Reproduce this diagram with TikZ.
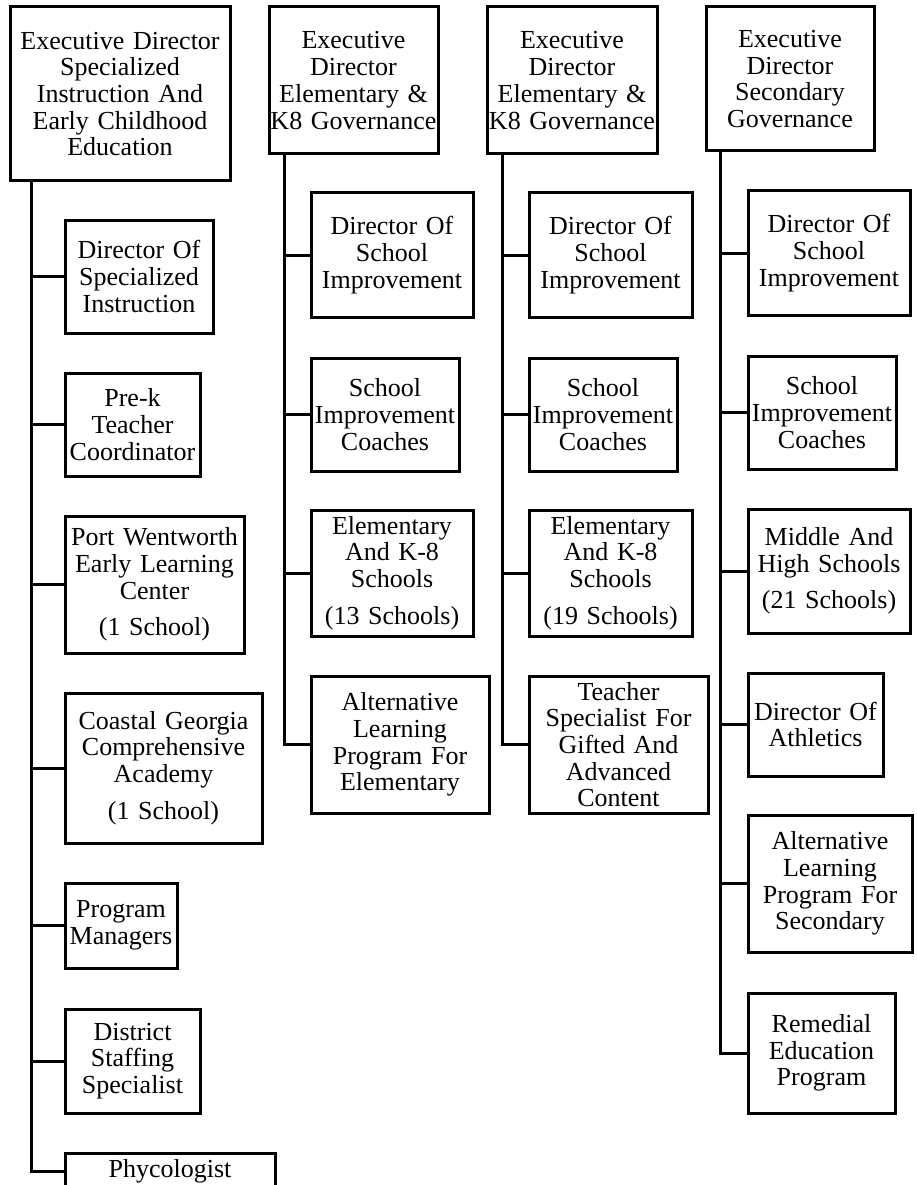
\documentclass[tikz,border=0pt]{standalone}
\usepackage{fontspec}
\setmainfont{Liberation Serif}
\tikzset{
  obox/.style={draw=black, line width=3pt, inner sep=0pt, align=center,
    text=black, font=\fontsize{26}{26.7}\selectfont},
  link/.style={draw=black, line width=3pt}
}
\newcommand{\orgbox}[6]{%
  \pgfmathsetmacro{\obw}{#4-#2}%
  \pgfmathsetmacro{\obh}{#5-#3}%
  \node[obox, text width=\obw pt, minimum width=\obw pt, minimum height=\obh pt]
    (#1) at ({(#2+#4)/2},{(#3+#5)/2}) {#6};}
\begin{document}
\begin{tikzpicture}[x=1pt,y=-1pt]
\useasboundingbox (0,0) rectangle (917,1185);
\clip (0,0) rectangle (917,1185);
\fill[white] (0,0) rectangle (917,1185);

% ---------- Column 1 ----------
\orgbox{top1}{10}{7}{230}{181}{Executive Director\\Specialized\\Instruction And\\Early Childhood\\Education}
\orgbox{c1a}{65}{220}{213}{333}{Director Of\\Specialized\\Instruction}
\orgbox{c1b}{65}{373}{200}{476}{Pre-k\\Teacher\\Coordinator}
\orgbox{c1c}{65}{516}{244}{653}{Port Wentworth\\Early Learning\\Center\\[10pt](1 School)}
\orgbox{c1d}{65}{693}{262}{843}{Coastal Georgia\\Comprehensive\\Academy\\[10pt](1 School)}
\orgbox{c1e}{65}{883}{177}{968}{Program\\Managers}
\orgbox{c1f}{65}{1009}{200}{1113}{District\\Staffing\\Specialist}
\orgbox{c1g}{65}{1153}{275}{1189}{Phycologist}

% ---------- Column 2 ----------
\orgbox{top2}{269}{7}{438}{154}{Executive\\Director\\Elementary \&\\K8 Governance}
\orgbox{c2a}{311}{193}{473}{317}{Director Of\\School\\Improvement}
\orgbox{c2b}{311}{358}{459}{471}{School\\Improvement\\Coaches}
\orgbox{c2c}{311}{510}{473}{636}{Elementary\\And K-8\\Schools\\[10pt](13 Schools)}
\orgbox{c2d}{311}{676}{489}{813}{Alternative\\Learning\\Program For\\Elementary}

% ---------- Column 3 ----------
\orgbox{top3}{487}{7}{657}{154}{Executive\\Director\\Elementary \&\\K8 Governance}
\orgbox{c3a}{529}{193}{692}{317}{Director Of\\School\\Improvement}
\orgbox{c3b}{529}{358}{677}{471}{School\\Improvement\\Coaches}
\orgbox{c3c}{529}{510}{692}{636}{Elementary\\And K-8\\Schools\\[10pt](19 Schools)}
\orgbox{c3d}{529}{676}{708}{813}{Teacher\\Specialist For\\Gifted And\\Advanced\\Content}

% ---------- Column 4 ----------
\orgbox{top4}{706}{7}{874}{151}{Executive\\Director\\Secondary\\Governance}
\orgbox{c4a}{748}{191}{910}{315}{Director Of\\School\\Improvement}
\orgbox{c4b}{748}{356}{896}{469}{School\\Improvement\\Coaches}
\orgbox{c4c}{748}{509}{910}{633}{Middle And\\High Schools\\[10pt](21 Schools)}
\orgbox{c4d}{748}{673}{883}{776}{Director Of\\Athletics}
\orgbox{c4e}{748}{815}{912}{952}{Alternative\\Learning\\Program For\\Secondary}
\orgbox{c4f}{748}{993}{895}{1113}{Remedial\\Education\\Program}

% ---------- Trunks ----------
\coordinate (t1) at ([xshift=23pt]top1.south west);
\coordinate (t2) at ([xshift=17pt]top2.south west);
\coordinate (t3) at ([xshift=17pt]top3.south west);
\coordinate (t4) at ([xshift=16pt]top4.south west);

\draw[link] (t1) |- (c1g.west);
\foreach \n in {c1a,c1b,c1c,c1d,c1e,c1f} \draw[link] (\n.west) -- (\n.west -| t1);

\draw[link] (t2) |- (c2d.west);
\foreach \n in {c2a,c2b,c2c} \draw[link] (\n.west) -- (\n.west -| t2);

\draw[link] (t3) |- (c3d.west);
\foreach \n in {c3a,c3b,c3c} \draw[link] (\n.west) -- (\n.west -| t3);

\draw[link] (t4) |- (c4f.west);
\foreach \n in {c4a,c4b,c4c,c4d,c4e} \draw[link] (\n.west) -- (\n.west -| t4);
\end{tikzpicture}
\end{document}
